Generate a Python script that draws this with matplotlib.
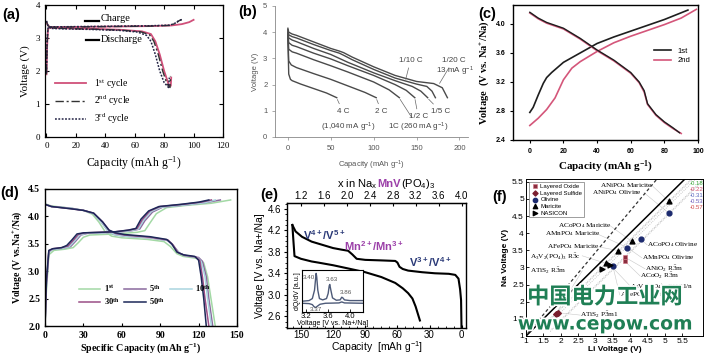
import matplotlib
matplotlib.use('Agg')
import matplotlib.pyplot as plt
import matplotlib.patheffects as pe
from matplotlib.offsetbox import TextArea, HPacker, AnchoredOffsetbox

plt.rcParams['mathtext.default'] = 'regular'

SERIF = 'Liberation Serif'
SANS = 'Liberation Sans'

# ---------------- (a) ----------------
a_ch1_cap = [0, 0.4, 1, 2, 4, 10, 30, 50, 70, 85, 92, 97, 100]
a_ch1_v = [1.9, 2.7, 3.25, 3.32, 3.33, 3.33, 3.34, 3.35, 3.36, 3.38, 3.42, 3.48, 3.55]
a_dc1_cap = [0, 1, 3, 10, 30, 50, 65, 71, 74, 77, 80, 83, 84.5, 84.8]
a_dc1_v = [3.48, 3.38, 3.31, 3.3, 3.28, 3.25, 3.2, 3.12, 2.9, 2.5, 2.0, 1.6, 1.55, 1.8]
a_ch2_cap = [0, 0.4, 1, 2, 4, 10, 30, 50, 70, 84, 88, 90, 92]
a_ch2_v = [1.9, 2.8, 3.28, 3.32, 3.33, 3.33, 3.34, 3.35, 3.36, 3.38, 3.45, 3.52, 3.56]
a_dc2_cap = [0, 1, 3, 10, 30, 50, 64, 70, 73, 76, 79, 82, 84, 84.3]
a_dc2_v = [3.5, 3.38, 3.3, 3.29, 3.27, 3.24, 3.19, 3.1, 2.9, 2.5, 2.0, 1.6, 1.5, 1.85]
a_ch3_cap = [0, 0.4, 1, 2, 4, 10, 30, 50, 70, 84, 88, 90, 92]
a_ch3_v = [1.95, 2.9, 3.3, 3.33, 3.34, 3.34, 3.35, 3.36, 3.37, 3.39, 3.46, 3.53, 3.56]
a_dc3_cap = [0, 1, 3, 10, 30, 50, 62, 68, 71, 74, 77, 80, 83, 83.5]
a_dc3_v = [3.52, 3.37, 3.29, 3.28, 3.26, 3.23, 3.18, 3.08, 2.9, 2.5, 2.0, 1.65, 1.5, 1.8]
a_cycles = ['1$^{st}$ cycle', '2$^{nd}$ cycle', '3$^{rd}$ cycle']

# ---------------- (b) ----------------
b_rates = ['1/20 C', '1/10 C', '1/5 C', '1/2 C', '1C', '2 C', '4 C']
b_caps = [
    [0, 1, 5, 10, 30, 50, 60, 65, 75, 100, 125, 150, 170, 180, 186],
    [0, 1, 5, 10, 30, 50, 60, 65, 75, 100, 125, 150, 162, 168, 172],
    [0, 1, 5, 10, 30, 50, 70, 100, 125, 145, 155, 163],
    [0, 1, 5, 10, 30, 50, 70, 100, 125, 138, 148],
    [0, 1, 5, 10, 30, 50, 70, 100, 118, 130],
    [0, 1, 4, 10, 30, 50, 70, 90, 103],
    [0, 1, 3, 5, 15, 30, 45, 57],
]
b_volts = [
    [4.15, 4.0, 3.93, 3.88, 3.63, 3.38, 3.28, 3.22, 3.05, 2.68, 2.35, 2.12, 2.04, 1.88, 1.5],
    [4.1, 3.9, 3.83, 3.78, 3.53, 3.3, 3.2, 3.12, 2.95, 2.58, 2.25, 2.02, 1.93, 1.75, 1.5],
    [4.05, 3.78, 3.7, 3.64, 3.38, 3.15, 2.85, 2.45, 2.15, 1.93, 1.75, 1.5],
    [4.0, 3.6, 3.5, 3.45, 3.2, 2.98, 2.72, 2.35, 2.0, 1.78, 1.5],
    [3.95, 3.35, 3.25, 3.2, 2.95, 2.72, 2.48, 2.1, 1.8, 1.5],
    [3.9, 2.9, 2.75, 2.65, 2.42, 2.2, 1.95, 1.7, 1.5],
    [3.8, 2.4, 2.2, 2.15, 2.02, 1.85, 1.68, 1.5],
]

# ---------------- (c) ----------------
c_ch1_cap = [0, 2, 5, 8, 10, 13, 20, 30, 40, 50, 60, 70, 80, 94]
c_ch1_v = [2.78, 2.85, 3.02, 3.18, 3.26, 3.33, 3.47, 3.6, 3.73, 3.82, 3.9, 3.98, 4.06, 4.19]
c_dc1_cap = [0, 5, 10, 20, 30, 40, 50, 60, 65, 68, 70, 75, 80, 85, 89]
c_dc1_v = [4.16, 4.08, 4.02, 3.94, 3.8, 3.64, 3.5, 3.33, 3.2, 3.08, 2.9, 2.75, 2.65, 2.57, 2.5]
c_ch2_cap = [0, 5, 10, 15, 20, 25, 30, 40, 50, 60, 70, 80, 90, 99]
c_ch2_v = [2.6, 2.7, 2.82, 2.98, 3.23, 3.39, 3.48, 3.62, 3.74, 3.83, 3.91, 3.99, 4.08, 4.2]
c_dc2_cap = [0, 5, 10, 20, 30, 40, 50, 60, 65, 68, 70, 75, 80, 85, 90]
c_dc2_v = [4.15, 4.07, 4.01, 3.93, 3.79, 3.63, 3.49, 3.32, 3.19, 3.06, 2.89, 2.74, 2.64, 2.56, 2.49]

# ---------------- (d) ----------------
d_cycles = ['1$^{st}$', '5$^{th}$', '10$^{th}$', '30$^{th}$', '50$^{th}$']
d_colors = ['#a3d9a5', '#8a6a9e', '#a9d5df', '#9a4e86', '#1c2858']
d_ch_cap = [
    [0, 1, 3, 7, 15, 22, 26, 30, 35, 55, 72, 78, 82, 87, 95, 110, 130, 145],
    [0, 1, 3, 6, 14, 20, 24, 28, 33, 55, 68, 74, 78, 84, 92, 110, 125, 137],
    [0, 1, 3, 6, 14, 19, 23, 27, 32, 55, 67, 73, 77, 83, 91, 110, 125, 133],
    [0, 1, 3, 6, 13, 18, 22, 26, 31, 55, 66, 72, 76, 82, 90, 108, 122, 130],
    [0, 1, 3, 6, 13, 17, 21, 25, 30, 55, 65, 71, 75, 81, 89, 106, 120, 128],
]
d_ch_v = [
    [2.0, 2.6, 3.3, 3.38, 3.4, 3.43, 3.52, 3.62, 3.66, 3.68, 3.71, 3.74, 3.88, 4.05, 4.16, 4.2, 4.24, 4.3],
    [2.0, 2.7, 3.35, 3.4, 3.42, 3.45, 3.55, 3.66, 3.69, 3.71, 3.74, 3.77, 3.92, 4.08, 4.17, 4.21, 4.25, 4.3],
    [2.0, 2.7, 3.35, 3.4, 3.42, 3.45, 3.55, 3.66, 3.69, 3.71, 3.74, 3.77, 3.93, 4.09, 4.17, 4.21, 4.25, 4.3],
    [2.0, 2.75, 3.37, 3.41, 3.43, 3.46, 3.56, 3.67, 3.7, 3.72, 3.75, 3.78, 3.94, 4.1, 4.18, 4.22, 4.26, 4.3],
    [2.0, 2.8, 3.38, 3.41, 3.43, 3.47, 3.57, 3.68, 3.7, 3.72, 3.75, 3.78, 3.95, 4.1, 4.18, 4.22, 4.26, 4.3],
]
d_dc_cap = [
    [0, 5, 20, 30, 37, 42, 47, 52, 60, 80, 93, 98, 103, 108, 120, 124, 127, 130, 133],
    [0, 5, 20, 30, 38, 44, 49, 54, 62, 82, 96, 100, 105, 110, 120, 123, 126, 128, 131],
    [0, 5, 20, 30, 38, 44, 49, 54, 62, 82, 96, 100, 105, 110, 119, 122, 125, 127, 130],
    [0, 5, 20, 30, 38, 45, 50, 55, 62, 82, 96, 100, 104, 109, 118, 121, 123, 125, 128],
    [0, 5, 20, 30, 38, 45, 50, 55, 62, 82, 95, 99, 103, 108, 117, 120, 122, 124, 126],
]
d_dc_v = [
    [4.23, 4.19, 4.15, 4.11, 4.04, 3.9, 3.72, 3.64, 3.61, 3.58, 3.54, 3.45, 3.32, 3.27, 3.23, 3.15, 2.9, 2.45, 2.0],
    [4.22, 4.18, 4.15, 4.11, 4.05, 3.9, 3.74, 3.67, 3.64, 3.61, 3.56, 3.47, 3.33, 3.28, 3.25, 3.18, 2.9, 2.5, 2.0],
    [4.22, 4.18, 4.15, 4.11, 4.05, 3.9, 3.74, 3.67, 3.64, 3.61, 3.56, 3.47, 3.33, 3.28, 3.25, 3.18, 2.9, 2.5, 2.0],
    [4.22, 4.18, 4.14, 4.11, 4.06, 3.9, 3.75, 3.69, 3.66, 3.62, 3.57, 3.48, 3.34, 3.29, 3.26, 3.19, 2.9, 2.5, 2.0],
    [4.22, 4.18, 4.14, 4.11, 4.06, 3.9, 3.75, 3.7, 3.67, 3.63, 3.58, 3.5, 3.35, 3.3, 3.27, 3.2, 2.9, 2.5, 2.0],
]

# ---------------- (e) ----------------
e_ch_cap = [0.2, 0.6, 1.5, 3, 6, 12, 25, 37, 50, 55, 58, 60, 62, 75, 90, 98, 102, 106, 112, 120, 130, 140, 149, 155, 158]
e_ch_v = [2.4, 2.9, 3.1, 3.3, 3.37, 3.39, 3.4, 3.42, 3.45, 3.48, 3.52, 3.6, 3.63, 3.64, 3.65, 3.67, 3.75, 3.82,
          3.84, 3.87, 3.93, 3.99, 4.08, 4.18, 4.3]
e_dc_cap = [158, 157, 156, 150, 140, 134, 120, 106, 90, 75, 62, 55, 50, 46, 43, 41, 39]
e_dc_v = [4.3, 4.0, 3.72, 3.67, 3.62, 3.6, 3.55, 3.49, 3.42, 3.33, 3.22, 3.12, 3.03, 2.93, 2.78, 2.65, 2.52]
e_top_ticks = [1.2, 1.6, 2.0, 2.4, 2.8, 3.2, 3.6, 4.0]
# inset dQ/dV
e_in_v1 = [3.12, 3.25, 3.31, 3.35, 3.37, 3.38, 3.39, 3.41, 3.44, 3.5, 3.57, 3.6, 3.62, 3.63, 3.65, 3.68, 3.75,
           3.82, 3.85, 3.87, 3.9, 4.0, 4.24]
e_in_q1 = [0.12, 0.14, 0.2, 0.45, 0.8, 0.95, 0.85, 0.45, 0.2, 0.16, 0.2, 0.35, 0.58, 0.62, 0.45, 0.22, 0.15,
           0.16, 0.24, 0.22, 0.16, 0.14, 0.14]
e_in_v2 = [3.12, 3.25, 3.31, 3.34, 3.37, 3.4, 3.45, 3.55, 3.8, 3.85, 3.9, 4.24]
e_in_q2 = [0.06, 0.05, 0.02, -0.04, -0.07, -0.03, 0.03, 0.06, 0.07, 0.1, 0.07, 0.06]

# ---------------- (f) ----------------
f_oxide_li = [3.85, 3.85]
f_oxide_na = [3.3, 3.18]
f_sulfide_li = [1.85, 1.92]
f_sulfide_na = [1.63, 1.68]
f_olivine_li = [5.12, 4.3, 3.92, 3.5]
f_olivine_na = [4.58, 3.82, 3.58, 3.05]
f_maricite_li = [5.12, 4.05, 3.66, 3.3]
f_maricite_na = [4.93, 3.76, 3.49, 3.12]
f_nasicon_li = [3.18, 3.42]
f_nasicon_na = [2.95, 3.08]
f_offsets = [-0.18, -0.22, -0.31, -0.53, -0.57]
f_off_colors = ['#3aaa3a', '#d04a6a', '#5566bb', '#6a5abb', '#d04a4a']
f_dash_li = [1.05, 4.75]
f_dash_na = [1.08, 5.55]
f_diag = [1.0, 5.6]

W, H = 704, 354
fig = plt.figure(figsize=(W / 100, H / 100), dpi=100)


def px_axes(l, t, r, b):
    return fig.add_axes([l / W, 1 - b / H, (r - l) / W, (b - t) / H])


def panel_label(x, y, s):
    fig.text(x / W, 1 - y / H, s, fontsize=10.5, fontweight='bold', family=SANS, va='center', ha='left')


def tick_font(ax, family, size, weight='normal', color='black'):
    ax.tick_params(labelsize=size, labelcolor=color)
    for lb in ax.get_xticklabels() + ax.get_yticklabels():
        lb.set_family(family)
        lb.set_fontweight(weight)


# ===== (a) =====
ax = px_axes(45, 5, 223, 137)
pink = '#d0507a'
ax.plot(a_ch1_cap, a_ch1_v, color=pink, lw=1.3, label=a_cycles[0])
ax.plot(a_dc1_cap, a_dc1_v, color=pink, lw=1.3)
ax.plot(a_ch2_cap, a_ch2_v, color='#333333', lw=1.0, ls=(0, (6, 2, 1.5, 2)), label=a_cycles[1])
ax.plot(a_dc2_cap, a_dc2_v, color='#333333', lw=1.0, ls=(0, (6, 2, 1.5, 2)))
ax.plot(a_ch3_cap, a_ch3_v, color='#222244', lw=1.1, ls=(0, (1.2, 1.0)), label=a_cycles[2])
ax.plot(a_dc3_cap, a_dc3_v, color='#222244', lw=1.1, ls=(0, (1.2, 1.0)))
ax.set_xlim(-1, 120)
ax.set_ylim(0, 4)
ax.set_xticks(range(0, 121, 20))
ax.set_yticks(range(0, 5))
ax.tick_params(direction='in', top=True, right=True, length=3, width=0.8)
tick_font(ax, SERIF, 6.5)
ax.set_xlabel('Capacity (mAh g$^{-1}$)', family=SERIF, fontsize=8.5, labelpad=3)
ax.set_ylabel('Voltage (V)', family=SERIF, fontsize=8, labelpad=4)
ax.plot([26, 36], [3.53, 3.53], color='black', lw=1.6)
ax.text(37, 3.58, 'Charge', family=SERIF, fontsize=7.5, va='center')
ax.plot([27, 36], [2.93, 2.93], color='black', lw=1.6)
ax.text(37, 2.95, 'Discharge', family=SERIF, fontsize=7.5, va='center')
ax.legend(loc='lower left', bbox_to_anchor=(0.02, 0.03), frameon=False, handlelength=3.2,
          prop={'family': SERIF, 'size': 7}, labelspacing=0.35, borderpad=0.2)
for s in ax.spines.values():
    s.set_linewidth(0.9)
panel_label(2, 15, '(a)')

# ===== (b) =====
ax = px_axes(275, 6, 468, 137)
gray = '#4a4a4a'
for cap, v in zip(b_caps, b_volts):
    ax.plot(cap, v, color=gray, lw=1.0)
ax.set_xlim(-15, 210)
ax.set_ylim(0, 5)
ax.set_xticks([0, 50, 100, 150, 200])
ax.set_yticks(range(0, 6))
for s in ['top', 'right']:
    ax.spines[s].set_visible(False)
for s in ['left', 'bottom']:
    ax.spines[s].set_color('#888888')
    ax.spines[s].set_linewidth(0.6)
ax.tick_params(direction='out', length=2, width=0.5, color='#888888')
tick_font(ax, SANS, 5.5, color='#555555')
ax.set_xlabel('Capacity (mAh g$^{-1}$)', family=SANS, fontsize=5.5, color='#555555', labelpad=5)
ax.set_ylabel('Voltage (V)', family=SANS, fontsize=5.5, color='#555555', labelpad=3)
b_lab = dict(family=SANS, fontsize=5.8, color='#444444', ha='center', va='center')
lk = dict(arrowstyle='-', color='#666666', lw=0.5, shrinkA=1, shrinkB=1)
ax.annotate('4 C', xy=(57, 1.48), xytext=(64, 0.98), arrowprops=lk, **b_lab)
ax.text(70, 0.36, '(1,040 mA g$^{-1}$)', **b_lab)
ax.annotate('2 C', xy=(103, 1.48), xytext=(109, 0.98), arrowprops=lk, **b_lab)
ax.annotate('1C (260 mA g$^{-1}$)', xy=(130, 1.48), xytext=(152, 0.36), arrowprops=lk, **b_lab)
ax.annotate('1/2 C', xy=(148, 1.48), xytext=(152, 0.78), arrowprops=lk, **b_lab)
ax.annotate('1/5 C', xy=(163, 1.48), xytext=(178, 0.98), arrowprops=lk, **b_lab)
ax.annotate('1/10 C', xy=(137, 2.15), xytext=(143, 2.93), arrowprops=lk, **b_lab)
ax.annotate('1/20 C', xy=(176, 2.0), xytext=(193, 2.93), arrowprops=lk, **b_lab)
ax.text(195, 2.49, '13 mA g$^{-1}$', **b_lab)
panel_label(238, 12, '(b)')

# ===== (c) =====
ax = px_axes(513, 5, 698, 140)
c_black = '#1e1e1e'
c_pink = '#d4567a'
ax.plot(c_ch1_cap, c_ch1_v, color=c_black, lw=1.2, label='1st')
ax.plot(c_ch2_cap, c_ch2_v, color=c_pink, lw=1.2, label='2nd')
ax.plot(c_dc2_cap, c_dc2_v, color=c_pink, lw=1.2)
ax.plot(c_dc1_cap, c_dc1_v, color=c_black, lw=1.0)
ax.set_xlim(-10, 100)
ax.set_ylim(2.4, 4.26)
ax.set_xticks(range(0, 101, 20))
ax.set_yticks([2.4, 2.8, 3.2, 3.6, 4.0])
ax.set_yticklabels(['2.4', '2.8', '3.2', '3.6', '4.0'])
ax.tick_params(direction='out', length=2, width=0.8)
tick_font(ax, SANS, 5, weight='bold')
for s in ax.spines.values():
    s.set_linewidth(1.0)
ax.set_xlabel('Capacity (mAh g$^{-1}$)', family=SERIF, fontsize=8, fontweight='bold', labelpad=3)
ax.set_ylabel('Voltage  (V vs. Na$^{+}$/Na)', family=SERIF, fontsize=7.5, fontweight='bold', labelpad=3)
ax.legend(loc='upper left', bbox_to_anchor=(0.74, 0.72), frameon=False, handlelength=2.2,
          prop={'family': SANS, 'size': 5.5}, labelspacing=0.3, borderpad=0.1)
panel_label(478, 14, '(c)')

# ===== (d) =====
ax = px_axes(45, 189, 237, 326)
handles = []
for lab, col, cc, cv, dc, dv in zip(d_cycles, d_colors, d_ch_cap, d_ch_v, d_dc_cap, d_dc_v):
    h, = ax.plot(cc, cv, color=col, lw=1.1, label=lab)
    ax.plot(dc, dv, color=col, lw=1.1)
    handles.append(h)
ax.set_xlim(0, 150)
ax.set_ylim(2.0, 4.5)
ax.set_xticks(range(0, 151, 30))
ax.set_yticks([2.0, 2.5, 3.0, 3.5, 4.0, 4.5])
ax.set_yticklabels(['2.0', '2.5', '3.0', '3.5', '4.0', '4.5'])
ax.tick_params(direction='in', length=2.5, width=0.8)
tick_font(ax, SERIF, 7, weight='bold')
for s in ax.spines.values():
    s.set_linewidth(1.0)
ax.set_xlabel('Specific Capacity (mAh g$^{-1}$)', family=SERIF, fontsize=7.2, fontweight='bold', labelpad=1)
ax.set_ylabel('Voltage (V vs.Na$^{+}$/Na)', family=SERIF, fontsize=7, fontweight='bold', labelpad=3)
order = [0, 3, 1, 4, 2]
ax.legend([handles[i] for i in order], [d_cycles[i] for i in order], ncol=3, loc='lower left',
          bbox_to_anchor=(0.15, 0.1), frameon=False, handlelength=2.6, columnspacing=0.6,
          prop={'family': SERIF, 'size': 6, 'weight': 'bold'}, labelspacing=0.3, borderpad=0.1,
          handletextpad=0.4)
panel_label(0, 193, '(d)')

# ===== (e) =====
ax = px_axes(287, 203, 466, 328)
ax.plot(e_ch_cap, e_ch_v, color='black', lw=1.5)
ax.plot(e_dc_cap, e_dc_v, color='black', lw=1.5)
ax.set_xlim(163, -4)
ax.set_ylim(2.38, 4.71)
ax.set_xticks([150, 120, 90, 60, 30, 0])
ax.set_yticks([2.6, 3.0, 3.4, 3.8, 4.2, 4.6])
ax.set_yticklabels(['2.6', '3.0', '3.4', '3.8', '4.2', '4.6'])
ax.minorticks_on()
ax.tick_params(axis='y', which='major', direction='out', length=2.5, width=0.8, pad=1.5)
ax.tick_params(axis='y', which='minor', direction='out', length=1.5, width=0.6)
ax.tick_params(axis='x', which='major', direction='in', length=2.5, width=0.8, pad=1.2)
ax.tick_params(axis='x', which='minor', direction='in', length=1.5, width=0.6)
tick_font(ax, SANS, 7)
for s in ax.spines.values():
    s.set_linewidth(1.0)
ax.set_xlabel('Capacity  [mAh g$^{-1}$]', family=SANS, fontsize=7.5, labelpad=0)
ax.set_ylabel('Voltage [V vs. Na+/Na]', family=SANS, fontsize=7.5, labelpad=2)
top = ax.secondary_xaxis('top', functions=(lambda c: 4 - c * 2.8 / 150, lambda x: (4 - x) * 150 / 2.8))
top.set_xticks(e_top_ticks)
top.set_xticklabels(['%.1f' % t for t in e_top_ticks])
top.tick_params(direction='in', length=2.5, width=0.8, labelsize=7, pad=1.2)
for lb in top.get_xticklabels():
    lb.set_family(SANS)
navy = '#2b3a78'
purp = '#9b3fa8'
ax.text(128, 4.11, 'V$^{4+}$/V$^{5+}$', color=navy, fontsize=8, fontweight='bold', family=SANS, ha='center', va='center')
ax.text(82, 3.9, 'Mn$^{2+}$/Mn$^{3+}$', color=purp, fontsize=8, fontweight='bold', family=SANS, ha='center', va='center')
ax.text(29, 3.6, 'V$^{3+}$/V$^{4+}$', color=navy, fontsize=8, fontweight='bold', family=SANS, ha='center', va='center')
tp = dict(family=SANS, size=8)
box = HPacker(children=[TextArea('x in Na$_x$', textprops=tp),
                        TextArea('MnV', textprops=dict(family=SANS, size=8, color=purp, weight='bold')),
                        TextArea('(PO$_4$)$_3$', textprops=tp)], pad=0, sep=0, align='baseline')
fig.add_artist(AnchoredOffsetbox(loc='center', child=box, frameon=False, pad=0, borderpad=0,
                                 bbox_to_anchor=(386 / W, 1 - 184 / H), bbox_transform=fig.transFigure))
panel_label(260, 195, '(e)')
# inset
ai = px_axes(302, 270, 363, 312)
inset_col = '#4d5a78'
ai.plot(e_in_v1, e_in_q1, color=inset_col, lw=1.0)
ai.plot(e_in_v2, e_in_q2, color=inset_col, lw=1.0)
ai.set_xlim(3.12, 4.24)
ai.set_ylim(-0.2, 1.05)
ai.set_xticks([3.2, 3.6, 4.0])
ai.set_yticks([])
ai.tick_params(direction='in', length=2, width=0.6, labelsize=5.5, pad=1)
for lb in ai.get_xticklabels():
    lb.set_family(SANS)
ai.set_xlabel('Voltage [V vs. Na+/Na]', family=SANS, fontsize=5, labelpad=0)
ai.set_ylabel('dQ/dV [a.u.]', family=SANS, fontsize=5, labelpad=1)
for s in ai.spines.values():
    s.set_linewidth(0.8)
il = dict(family=SANS, fontsize=4.5, color='#555555', ha='center', va='center')
ai.text(3.25, 0.82, '3.40', **il)
ai.text(3.66, 0.78, '3.63', **il)
ai.text(3.93, 0.38, '3.86', **il)
ai.text(3.38, -0.12, '3.37', **il)

# ===== (f) =====
ax = px_axes(526, 179, 703, 336)
ax.plot(f_diag, f_diag, color='black', lw=1.1, zorder=2)
ax.plot(f_dash_li, f_dash_na, color='#333333', lw=0.9, ls=(0, (2.5, 2)), zorder=2)
for off, col in zip(f_offsets, f_off_colors):
    ax.plot([1.7, 5.5 - off + 0.1], [1.7 + off, 5.6], color='#b8b8b8', lw=0.6, ls=(0, (1, 1.5)), zorder=1)
for k, (off, col) in enumerate(zip(f_offsets, f_off_colors)):
    ax.text(5.72, 5.46 - k * 0.18, '%.2f' % off, color=col, fontsize=4.3, family=SANS, va='center', ha='left')
ax.scatter(f_oxide_li, f_oxide_na, marker='s', s=10, color='#8a2e3e', edgecolor='#d07080', lw=0.4,
           label='Layered Oxide', zorder=3)
ax.scatter(f_sulfide_li, f_sulfide_na, marker='D', s=8, color='#7a1e2e', label='Layered Sulfide', zorder=3)
ax.scatter(f_olivine_li, f_olivine_na, marker='o', s=12, color='#1c2a6e', label='Olivine', zorder=3)
ax.scatter(f_maricite_li, f_maricite_na, marker='^', s=12, color='black', label='Maricite', zorder=3)
ax.scatter(f_nasicon_li, f_nasicon_na, marker='>', s=12, color='black', label='NASICON', zorder=3)
ax.set_xlim(1, 6.1)
ax.set_ylim(1, 5.58)
xt = [1, 1.5, 2, 2.5, 3, 3.5, 4, 4.5, 5, 5.5]
ax.set_xticks(xt)
ax.set_xticklabels(['%g' % t for t in xt])
ax.set_yticks(xt)
ax.set_yticklabels(['%g' % t for t in xt])
ax.tick_params(direction='in', length=2, width=0.6, labelsize=6, pad=1.5)
tick_font(ax, SANS, 6)
for s in ax.spines.values():
    s.set_linewidth(0.7)
ax.set_xlabel('Li Voltage (V)', family=SANS, fontsize=6, fontweight='bold', labelpad=1)
ax.set_ylabel('Na Voltage (V)', family=SANS, fontsize=6, fontweight='bold', labelpad=2)
ax.legend(loc='upper left', bbox_to_anchor=(0.0, 1.0), frameon=True, fancybox=False, edgecolor='#555555',
          prop={'family': SANS, 'size': 4.3}, handletextpad=0.1, labelspacing=0.25, borderpad=0.3,
          markerscale=0.9, handlelength=1.5).get_frame().set_linewidth(0.5)
fl = dict(family=SERIF, fontsize=5.2, va='center', ha='left')
f_labels = [
    ('ANiPO$_4$ Maricite', 3.13, 5.39, 5.12, 4.93),
    ('ANiPO$_4$ Olivine', 2.9, 5.18, 5.12, 4.58),
    ('ACoPO$_4$ Maricite', 1.92, 4.22, 4.05, 3.76),
    ('AMnPO$_4$ Maricite', 1.55, 3.98, 3.92, 3.58),
    ('AFePO$_4$ Maricite', 1.6, 3.6, 3.66, 3.49),
    ('A$_3$V$_2$(PO$_4$)$_3$ R$\\bar{3}$c', 1.12, 3.34, 3.3, 3.12),
    ('ATiS$_2$ R$\\bar{3}$m', 1.12, 2.9, 1.85, 1.63),
    ('ACoPO$_4$ Olivine', 4.49, 3.66, 4.3, 3.82),
    ('AMnPO$_4$ Olivine', 4.34, 3.28, 3.92, 3.58),
    ('ANiO$_2$ R$\\bar{3}$m', 4.43, 2.96, 3.85, 3.3),
    ('ACoO$_2$ R$\\bar{3}$m', 4.29, 2.75, 3.85, 3.18),
    ('A$_3$V$_2$(PO$_4$)$_3$ P1121/n', 4.0, 2.46, 3.42, 3.08),
    ('AFePO$_4$ Olivine', 3.7, 2.2, 3.5, 3.05),
    ('ATiS$_2$ P$\\bar{3}$m1', 2.56, 1.61, 1.92, 1.68),
]
for s, tx, ty, px, py in f_labels:
    ax.text(tx, ty, s, **fl)
    ax.plot([px, tx + (0.0 if tx > px else 1.5)], [py, ty], color='#c8c8c8', lw=0.4, zorder=0)
panel_label(492, 197, '(f)')

# watermark
wm = [pe.withStroke(linewidth=2.5, foreground='white')]
fig.text(605 / W, 1 - 297 / H, '中国电力工业网', family=['Noto Sans CJK SC', 'DejaVu Sans'], fontsize=16,
         fontweight='bold', color='#1f7f55', ha='center', va='center', path_effects=wm)
fig.text(605 / W, 1 - 324 / H, 'www.cepow.com', family='DejaVu Sans', fontsize=13.5, fontweight='bold',
         color='#1f7f55', ha='center', va='center', path_effects=wm)

fig.savefig('out.png', dpi=100)
